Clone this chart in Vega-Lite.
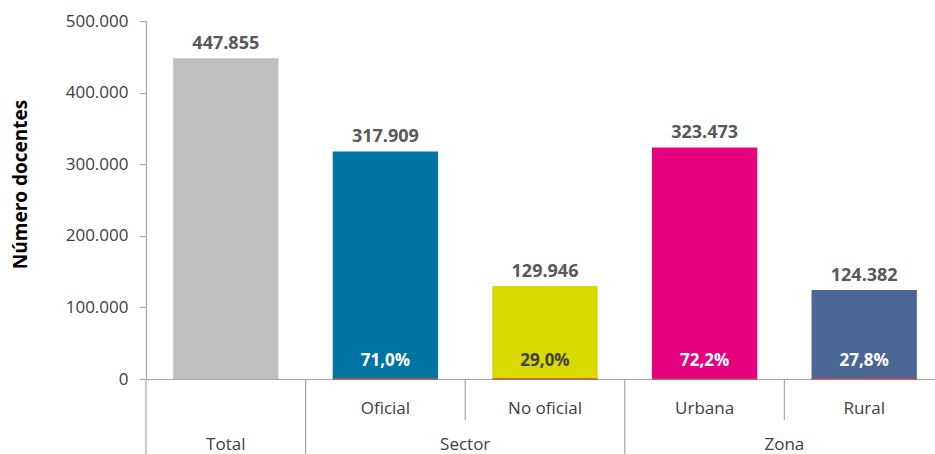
{
  "$schema": "https://vega.github.io/schema/vega-lite/v6.json",
  "autosize": {"type": "none"},
  "padding": {"left": 146, "top": 21, "right": 0, "bottom": 75},
  "width": 789,
  "height": 358,
  "background": "white",
  "config": {
    "view": {"stroke": null},
    "font": "Open Sans",
    "locale": {"number": {"decimal": ",", "thousands": ".", "grouping": [3], "currency": ["", " €"]}}
  },
  "datasets": {
    "main": [
      {"cat": "Total", "group": "Total", "value": 447855, "pct": null, "color": "#bfbfbf", "pctColor": "white"},
      {"cat": "Oficial", "group": "Sector", "value": 317909, "pct": 0.710, "color": "#0075a2", "pctColor": "white"},
      {"cat": "No oficial", "group": "Sector", "value": 129946, "pct": 0.290, "color": "#d9d800", "pctColor": "#404040"},
      {"cat": "Urbana", "group": "Zona", "value": 323473, "pct": 0.722, "color": "#e5007d", "pctColor": "white"},
      {"cat": "Rural", "group": "Zona", "value": 124382, "pct": 0.278, "color": "#4a6794", "pctColor": "white"}
    ],
    "dividers": [
      {"cat": "Total", "kind": "full"},
      {"cat": "Oficial", "kind": "full"},
      {"cat": "No oficial", "kind": "partial"},
      {"cat": "Urbana", "kind": "full"},
      {"cat": "Rural", "kind": "partial"}
    ],
    "groups": [
      {"group": "Total", "cat": "Total"},
      {"group": "Sector", "cat": "No oficial"},
      {"group": "Zona", "cat": "Rural"}
    ]
  },
  "data": {"name": "main"},
  "encoding": {
    "x": {
      "field": "cat", "type": "nominal", "sort": null,
      "scale": {"domain": ["Total", "Oficial", "No oficial", "Urbana", "Rural"], "range": [0, 798], "paddingInner": 0, "paddingOuter": 0},
      "axis": {"title": null, "labels": false, "ticks": false, "domainColor": "#a6a6a6", "domainWidth": 1.2}
    }
  },
  "layer": [
    {
      "mark": {"type": "bar", "width": {"band": 0.66}},
      "encoding": {
        "y": {
          "field": "value", "type": "quantitative",
          "scale": {"domain": [0, 500000], "nice": false},
          "axis": {
            "title": "Número docentes", "values": [0, 100000, 200000, 300000, 400000, 500000],
            "format": ",d", "grid": false,
            "domainColor": "#a6a6a6", "tickColor": "#a6a6a6", "tickSize": 7, "domainWidth": 1.2,
            "labelFontSize": 17, "labelColor": "#404040", "labelPadding": 11,
            "titleFontSize": 19, "titleFontWeight": "bold", "titleColor": "#000000",
            "titleX": -126, "titleY": 163, "titleAngle": -90, "titleAlign": "center", "titleBaseline": "middle"
          }
        },
        "color": {"field": "color", "type": "nominal", "scale": null}
      }
    },
    {
      "transform": [{"filter": "datum.pct != null"}],
      "mark": {"type": "bar", "width": {"band": 0.66}, "stroke": "#c0504d", "strokeWidth": 1.5, "fill": null},
      "encoding": {"y": {"datum": 0}}
    },
    {
      "mark": {"type": "text", "fontSize": 18, "fontWeight": "bold", "color": "#595959", "baseline": "alphabetic", "dy": -9},
      "encoding": {
        "y": {"field": "value", "type": "quantitative"},
        "text": {"field": "value", "type": "quantitative", "format": ",d"}
      }
    },
    {
      "transform": [{"filter": "datum.pct != null"}],
      "mark": {"type": "text", "fontSize": 17, "fontWeight": "bold", "baseline": "alphabetic", "dy": -13},
      "encoding": {
        "y": {"datum": 0},
        "text": {"field": "pct", "type": "quantitative", "format": ".1%"},
        "color": {"field": "pctColor", "type": "nominal", "scale": null}
      }
    },
    {
      "transform": [{"filter": "datum.pct != null"}],
      "mark": {"type": "text", "fontSize": 17, "color": "#404040", "baseline": "alphabetic", "dy": 35},
      "encoding": {
        "y": {"datum": 0},
        "text": {"field": "cat", "type": "nominal"}
      }
    },
    {
      "data": {"name": "dividers"},
      "transform": [{"filter": "datum.kind == 'full'"}],
      "mark": {"type": "rule", "color": "#a6a6a6", "strokeWidth": 1.2, "y2Offset": 76},
      "encoding": {
        "x": {"field": "cat", "type": "nominal", "bandPosition": 0},
        "y": {"datum": 0},
        "y2": {"datum": 0}
      }
    },
    {
      "data": {"name": "dividers"},
      "transform": [{"filter": "datum.kind == 'partial'"}],
      "mark": {"type": "rule", "color": "#a6a6a6", "strokeWidth": 1.2, "y2Offset": 41},
      "encoding": {
        "x": {"field": "cat", "type": "nominal", "bandPosition": 0},
        "y": {"datum": 0},
        "y2": {"datum": 0}
      }
    },
    {
      "data": {"name": "groups"},
      "transform": [{"filter": "datum.group == 'Total'"}],
      "mark": {"type": "text", "fontSize": 17, "color": "#404040", "baseline": "alphabetic", "dy": 71},
      "encoding": {
        "x": {"field": "cat", "type": "nominal", "bandPosition": 0.5},
        "y": {"datum": 0},
        "text": {"field": "group", "type": "nominal"}
      }
    },
    {
      "data": {"name": "groups"},
      "transform": [{"filter": "datum.group != 'Total'"}],
      "mark": {"type": "text", "fontSize": 17, "color": "#404040", "baseline": "alphabetic", "dy": 71},
      "encoding": {
        "x": {"field": "cat", "type": "nominal", "bandPosition": 0},
        "y": {"datum": 0},
        "text": {"field": "group", "type": "nominal"}
      }
    }
  ]
}
